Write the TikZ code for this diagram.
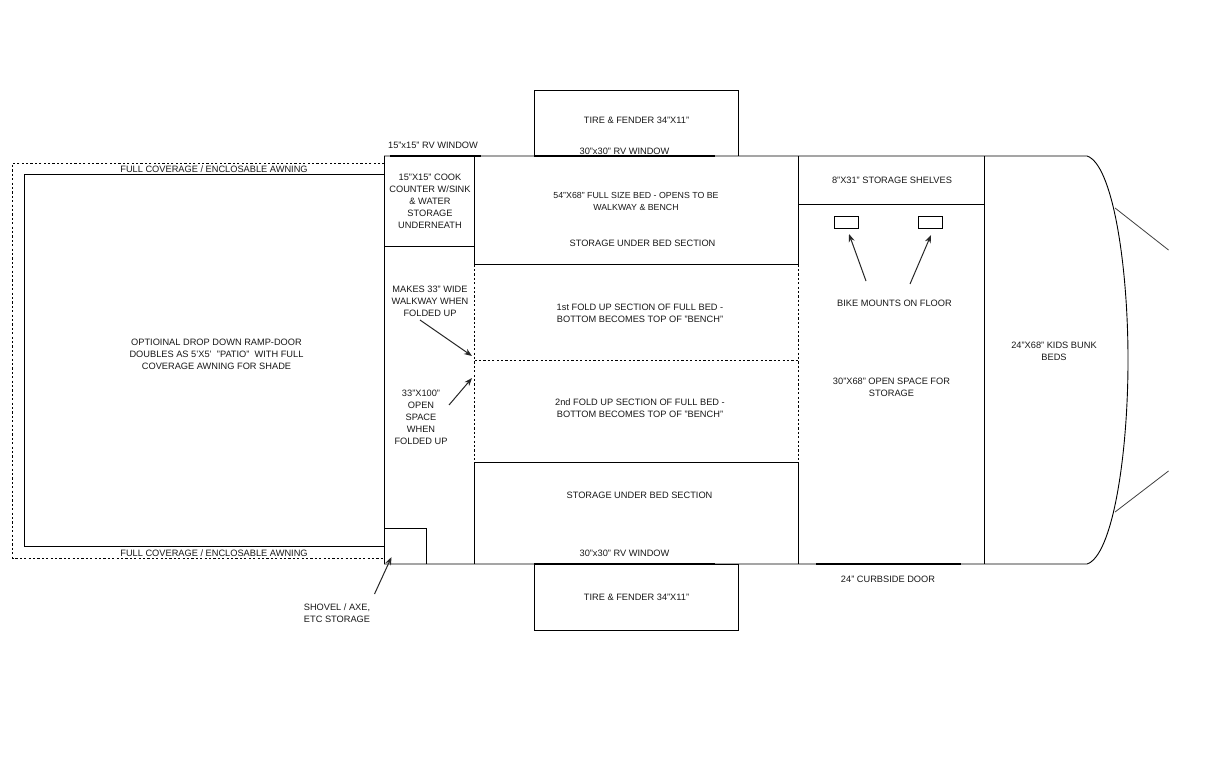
\documentclass[tikz,border=0pt]{standalone}
\usepackage{fontspec}
\setmainfont{Liberation Sans}
\usetikzlibrary{arrows.meta}
\tikzset{
  wall/.style={draw=black,line width=0.9pt},
  dotline/.style={draw=black,line width=0.9pt,dash pattern=on 2.2pt off 2.2pt},
  windowline/.style={draw=black,line width=2pt},
  lbl/.style={font=\fontsize{9.25}{12}\selectfont,align=center,inner sep=0pt,text=black!90},
  pointer/.style={draw=black!85,line width=1pt,-{Stealth[length=8pt,width=6pt]}},
  tailline/.style={draw=black!75,line width=0.8pt}
}
\begin{document}
\begin{tikzpicture}[x=1pt,y=-1pt]
\useasboundingbox (0,0) rectangle (1206,757);
\fill[white] (0,0) rectangle (1206,757);
% awning and ramp
\draw[dotline] (384.5,163) -- (12.5,163) -- (12.5,558) -- (384.5,558);
\draw[wall] (384.5,174.5) -- (24.5,174.5) -- (24.5,546.5) -- (384.5,546.5);
% tires
\draw[wall] (534.5,156) -- (534.5,90.5) -- (738.5,90.5) -- (738.5,156);
\draw[wall] (534.5,564) rectangle (738.5,630.5);
% trailer body
\draw[wall] (384.5,156) -- (1087,156) .. controls (1112,164) and (1128,262) .. (1128,360) .. controls (1128,458) and (1112,556) .. (1087,564) -- (384.5,564) -- cycle;
\draw[tailline] (1115,208) -- (1168.5,250);
\draw[tailline] (1115,512) -- (1168.5,471);
% partitions
\draw[wall] (384.5,246.5) -- (474.5,246.5);
\draw[wall] (474.5,156) -- (474.5,264.5) -- (798.5,264.5);
\draw[dotline] (474.5,264.5) -- (474.5,462.5);
\draw[dotline] (474.5,360.5) -- (798.5,360.5);
\draw[wall] (474.5,564) -- (474.5,462.5) -- (798.5,462.5);
\draw[wall] (798.5,156) -- (798.5,264.5);
\draw[dotline] (798.5,264.5) -- (798.5,462.5);
\draw[wall] (798.5,462.5) -- (798.5,564);
\draw[wall] (984.5,156) -- (984.5,564);
\draw[wall] (798.5,204.5) -- (984.5,204.5);
\draw[wall] (384.5,528.5) -- (426.5,528.5) -- (426.5,564);
\draw[wall] (834.5,216.5) rectangle (858.5,228.5);
\draw[wall] (918.5,216.5) rectangle (942.5,228.5);
% windows and door
\draw[windowline] (390,155.5) -- (481,155.5);
\draw[windowline] (534,155.5) -- (715,155.5);
\draw[windowline] (534,563.5) -- (715,563.5);
\draw[windowline] (816,563.5) -- (961,563.5);
% labels
\node[lbl] (win15) at (433,145) {15"x15" RV WINDOW};
\node[lbl] (awnT) at (214,169) {FULL COVERAGE / ENCLOSABLE AWNING};
\node[lbl] (awnB) at (214,553) {FULL COVERAGE / ENCLOSABLE AWNING};
\node[lbl] (ramp) at (216.5,354.5) {OPTIOINAL DROP DOWN RAMP-DOOR\\DOUBLES AS 5'X5'\ \ "PATIO"\ \ WITH FULL\\COVERAGE AWNING FOR SHADE};
\node[lbl] (cook) at (430,201) {15"X15" COOK\\COUNTER W/SINK\\\& WATER\\STORAGE\\UNDERNEATH};
\node[lbl] (walk) at (430,301) {MAKES 33" WIDE\\WALKWAY WHEN\\FOLDED UP};
\node[lbl] (open) at (421,417) {33"X100"\\OPEN\\SPACE\\WHEN\\FOLDED UP};
\node[lbl] (shovel) at (337,613) {SHOVEL / AXE,\\ETC STORAGE};
\node[lbl] (tireT) at (636.5,120) {TIRE \& FENDER 34"X11"};
\node[lbl] (win30T) at (624.5,151) {30"x30" RV WINDOW};
\node[lbl,font=\fontsize{8.8}{12}\selectfont] (bed) at (636,201.5) {54"X68" FULL SIZE BED - OPENS TO BE\\WALKWAY \& BENCH};
\node[lbl] (storT) at (642.5,243) {STORAGE UNDER BED SECTION};
\node[lbl] (fold1) at (640,313) {1st FOLD UP SECTION OF FULL BED -\\BOTTOM BECOMES TOP OF "BENCH"};
\node[lbl] (fold2) at (640,408) {2nd FOLD UP SECTION OF FULL BED -\\BOTTOM BECOMES TOP OF "BENCH"};
\node[lbl] (storB) at (639.5,495) {STORAGE UNDER BED SECTION};
\node[lbl] (win30B) at (624.5,553) {30"x30" RV WINDOW};
\node[lbl] (tireB) at (636.5,597) {TIRE \& FENDER 34"X11"};
\node[lbl] (shelf) at (892,180) {8"X31" STORAGE SHELVES};
\node[lbl] (bike) at (894.5,303) {BIKE MOUNTS ON FLOOR};
\node[lbl] (space) at (891.5,387) {30"X68" OPEN SPACE FOR\\STORAGE};
\node[lbl] (bunk) at (1054,351) {24"X68" KIDS BUNK\\BEDS};
\node[lbl] (door) at (888,579) {24" CURBSIDE DOOR};
% pointers
\coordinate (a1s) at (420,320); \coordinate (a1e) at (472,356);
\coordinate (a2s) at (449,405); \coordinate (a2e) at (472,378);
\coordinate (a3s) at (374.5,594); \coordinate (a3e) at (391.5,557);
\coordinate (a4s) at (866,281); \coordinate (a4e) at (849,234);
\coordinate (a5s) at (910,284); \coordinate (a5e) at (931,235);
\draw[pointer] (a1s) -- (a1e);
\draw[pointer] (a2s) -- (a2e);
\draw[pointer] (a3s) -- (a3e);
\draw[pointer] (a4s) -- (a4e);
\draw[pointer] (a5s) -- (a5e);
\end{tikzpicture}
\end{document}
